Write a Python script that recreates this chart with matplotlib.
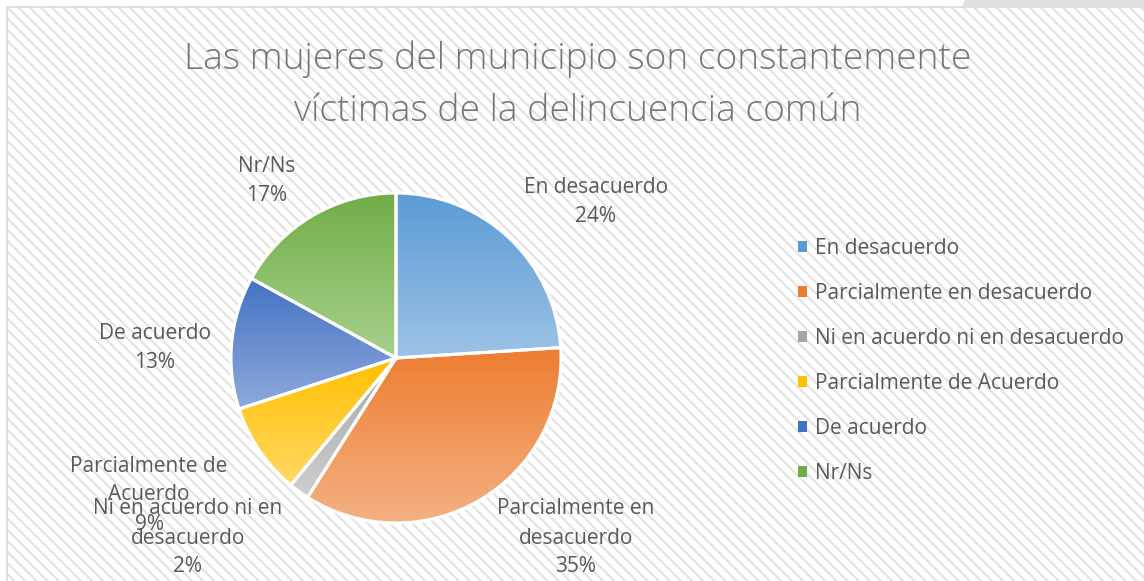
import numpy as np
import matplotlib.pyplot as plt
import matplotlib
from matplotlib.patches import Rectangle, Polygon, Patch
from matplotlib.colors import to_rgb

matplotlib.rcParams['font.family'] = ['Open Sans', 'DejaVu Sans']
matplotlib.rcParams['hatch.linewidth'] = 1.6

title = "Las mujeres del municipio son constantemente\nvíctimas de la delincuencia común"
categories = ["En desacuerdo", "Parcialmente en desacuerdo", "Ni en acuerdo ni en desacuerdo",
              "Parcialmente de Acuerdo", "De acuerdo", "Nr/Ns"]
label_names = ["En desacuerdo", "Parcialmente en\ndesacuerdo", "Ni en acuerdo ni en\ndesacuerdo",
               "Parcialmente de\nAcuerdo", "De acuerdo", "Nr/Ns"]
values = [24, 35, 2, 9, 13, 17]

top_colors = ['#5b9bd5', '#ed7d31', '#a5a5a5', '#ffc000', '#4472c4', '#70ad47']
bottom_colors = ['#9dc3e6', '#f4b183', '#cfcfcf', '#ffd966', '#8faadc', '#a9d18e']
# label centres in pixels (x, y from top)
label_pos = [(596, 202), (576, 538), (188, 538), (149, 495), (155, 348), (267, 181)]

W, H = 1144, 581
fig = plt.figure(figsize=(W / 100, H / 100), dpi=100)
fig.patch.set_facecolor('white')

# hatched chart background + border
x0, y0 = 7 / W, 1 - 7 / H
fig.add_artist(Rectangle((x0, 0), 1 - x0, y0, transform=fig.transFigure,
                         facecolor='white', edgecolor='#e4e4e4', linewidth=0,
                         hatch='\\\\\\', zorder=0))
fig.add_artist(Rectangle((x0, -0.01), 1.01 - x0, y0 + 0.01, transform=fig.transFigure,
                         facecolor='none', edgecolor='#d9d9d9', linewidth=1.2, zorder=1))
fig.add_artist(Polygon([(965 / W, 1), (1, 1), (1, y0), (962 / W, y0)], closed=True,
                       transform=fig.transFigure, facecolor='#e0e0e0', edgecolor='none', zorder=1))

R = 165
cx, cy = 396, 358
ax = fig.add_axes([(cx - R) / W, 1 - (cy + R) / H, 2 * R / W, 2 * R / H])
ax.axis('off')

wedges, _ = ax.pie(values, startangle=90, counterclock=False, radius=1,
                   wedgeprops=dict(edgecolor='white', linewidth=2.2))
for w, c1, c2 in zip(wedges, top_colors, bottom_colors):
    ext = w.get_path().get_extents()
    grad = np.linspace(0, 1, 256)[:, None, None]
    img = np.array(to_rgb(c2)) * grad + np.array(to_rgb(c1)) * (1 - grad)
    im = ax.imshow(img[::-1], extent=[ext.x0, ext.x1, ext.y0, ext.y1], origin='lower',
                   aspect='auto', zorder=1, interpolation='bilinear')
    im.set_clip_path(w)
    w.set_facecolor('none')
    w.set_zorder(2)
ax.set_xlim(-1, 1)
ax.set_ylim(-1, 1)

for name, v, (px, py) in zip(label_names, values, label_pos):
    fig.text(px / W, 1 - py / H, f"{name}\n{v}%", ha='center', va='center',
             fontsize=15, color='#595959', linespacing=1.5, zorder=5)

fig.text(578 / W, 1 - 85 / H, title, ha='center', va='center', fontsize=26.8,
         color='#757575', fontweight='light', linespacing=1.52)

handles = [Patch(facecolor=c, edgecolor='none') for c in top_colors]
fig.legend(handles, categories, loc='center left', bbox_to_anchor=(779 / W, 1 - 361 / H),
           frameon=False, fontsize=15, labelcolor='#595959', handlelength=0.45,
           handleheight=0.45, handletextpad=0.36, labelspacing=1.15)

fig.savefig('out.png', dpi=100)
